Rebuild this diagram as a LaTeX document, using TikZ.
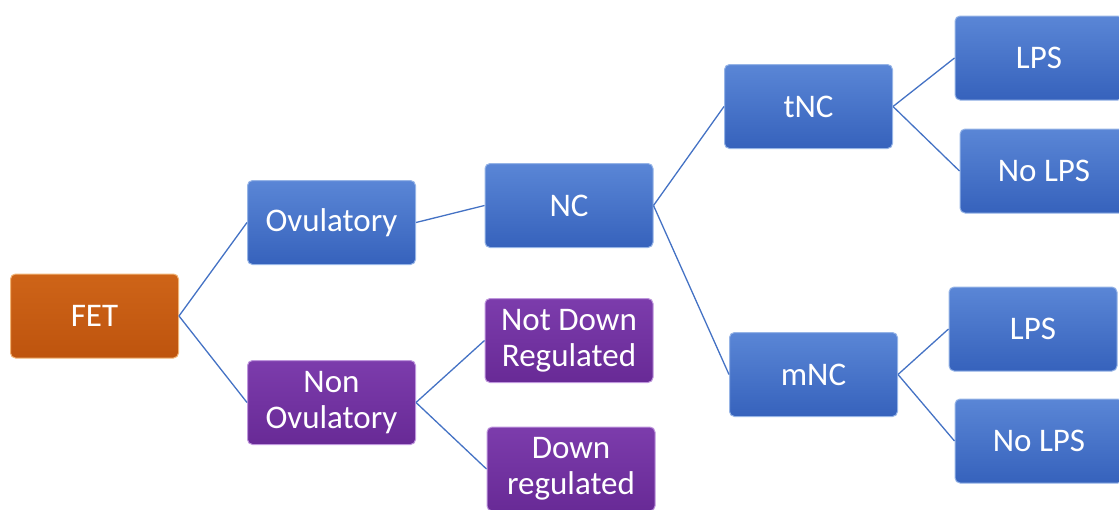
\documentclass[tikz,border=0pt]{standalone}
\usepackage{fontspec}
\setmainfont{Carlito}
\definecolor{blueT}{RGB}{90,134,214}
\definecolor{blueB}{RGB}{54,98,188}
\definecolor{blueE}{RGB}{150,180,230}
\definecolor{orT}{RGB}{206,100,24}
\definecolor{orB}{RGB}{190,84,14}
\definecolor{orE}{RGB}{240,180,120}
\definecolor{puT}{RGB}{124,60,172}
\definecolor{puB}{RGB}{104,42,150}
\definecolor{puE}{RGB}{190,150,220}
\definecolor{linkc}{RGB}{68,114,196}
\begin{document}
\begin{tikzpicture}[x=1pt,y=-1pt,
  box/.style={rounded corners=5pt, line width=1pt, minimum width=168pt, minimum height=84pt,
    inner sep=2pt, align=center, text=white, font=\fontsize{33}{36}\selectfont},
  bluebox/.style={box, top color=blueT, bottom color=blueB, draw=blueE},
  orbox/.style={box, top color=orT, bottom color=orB, draw=orE},
  pubox/.style={box, top color=puT, bottom color=puB, draw=puE},
  link/.style={draw=linkc, line width=1.3pt}]
\useasboundingbox (0,0) rectangle (1119,509);
\clip (0,0) rectangle (1119,509);
\node[orbox] (fet) at (94.5,316) {FET};
\node[bluebox] (ovu) at (331.5,222.5) {Ovulatory};
\node[pubox] (nonovu) at (331.5,402.5) {Non\\Ovulatory};
\node[bluebox] (nc) at (569,205.5) {NC};
\node[pubox] (ndr) at (569,340.5) {Not Down\\Regulated};
\node[pubox] (dr) at (571,469) {Down\\regulated};
\node[bluebox] (tnc) at (808.5,106.5) {tNC};
\node[bluebox] (mnc) at (813.5,374.5) {mNC};
\node[bluebox] (lps1) at (1039,58) {LPS};
\node[bluebox] (nolps1) at (1044,171) {No LPS};
\node[bluebox] (lps2) at (1033,329) {LPS};
\node[bluebox] (nolps2) at (1039,441) {No LPS};
\draw[link] (fet.east) -- (ovu.west);
\draw[link] (fet.east) -- (nonovu.west);
\draw[link] (ovu.east) -- (nc.west);
\draw[link] (nonovu.east) -- (ndr.west);
\draw[link] (nonovu.east) -- (dr.west);
\draw[link] (nc.east) -- (tnc.west);
\draw[link] (nc.east) -- (mnc.west);
\draw[link] (tnc.east) -- (lps1.west);
\draw[link] (tnc.east) -- (nolps1.west);
\draw[link] (mnc.east) -- (lps2.west);
\draw[link] (mnc.east) -- (nolps2.west);
\end{tikzpicture}
\end{document}
